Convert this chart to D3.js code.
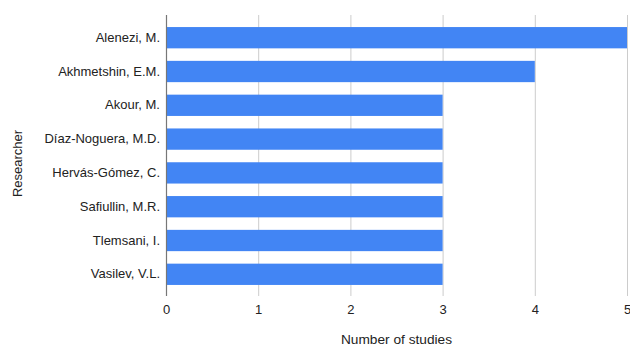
<!DOCTYPE html>
<html>
<head>
<meta charset="utf-8">
<script src="https://cdn.jsdelivr.net/npm/d3@7"></script>
<style>
  html, body { margin: 0; padding: 0; background: #fff; }
  svg { display: block; font-family: "Liberation Sans", Arial, sans-serif; }
</style>
</head>
<body>
<svg id="chart" width="630" height="346"></svg>
<script>
// Studies per researcher
const researchers = [
  "Alenezi, M.",
  "Akhmetshin, E.M.",
  "Akour, M.",
  "Díaz-Noguera, M.D.",
  "Hervás-Gómez, C.",
  "Safiullin, M.R.",
  "Tlemsani, I.",
  "Vasilev, V.L."
];
const studies = [5, 4, 3, 3, 3, 3, 3, 3];
const xTicks = [0, 1, 2, 3, 4, 5];

const svg = d3.select("#chart");
const plotLeft = 166, plotRight = 627, plotTop = 15, plotBottom = 296;
const labelFont = "'Liberation Sans', Arial, sans-serif";

const x = d3.scaleLinear().domain([0, 5]).range([plotLeft, plotRight]);
const y = d3.scaleBand().domain(researchers).range([20.8, 291.2]).paddingInner(0.37).paddingOuter(0.185);

// vertical gridlines
svg.append("g").selectAll("line")
  .data(xTicks.filter(d => d !== 0))
  .join("line")
  .attr("x1", d => x(d) + 0.5).attr("x2", d => x(d) + 0.5)
  .attr("y1", plotTop).attr("y2", plotBottom)
  .attr("stroke", "#cccccc").attr("stroke-width", 1);

// bars
svg.append("g").selectAll("rect")
  .data(researchers.map((r, i) => ({ r, v: studies[i] })))
  .join("rect")
  .attr("x", x(0))
  .attr("y", d => y(d.r))
  .attr("width", d => x(d.v) - x(0))
  .attr("height", y.bandwidth())
  .attr("fill", "#4285f4");

// baseline axis
svg.append("line")
  .attr("x1", plotLeft + 0.5).attr("x2", plotLeft + 0.5)
  .attr("y1", plotTop).attr("y2", plotBottom)
  .attr("stroke", "#777777").attr("stroke-width", 1.2);

// x tick labels
const xAxis = d3.axisBottom(x).tickValues(xTicks).tickSize(0).tickPadding(0).tickFormat(d3.format("d"));
const gx = svg.append("g").attr("transform", `translate(0,${plotBottom})`).call(xAxis);
gx.select(".domain").remove();
gx.selectAll("text")
  .attr("dy", null).attr("y", 17.5)
  .attr("fill", "#222").style("font-size", "13px")
  .style("font-family", labelFont);

// y category labels
const yAxis = d3.axisLeft(y).tickSize(0).tickPadding(6);
const gy = svg.append("g").attr("transform", `translate(${plotLeft},0)`).call(yAxis);
gy.select(".domain").remove();
gy.selectAll("text")
  .attr("fill", "#222").style("font-size", "13px")
  .style("font-family", labelFont);

// axis titles
svg.append("text")
  .attr("x", (plotLeft + plotRight) / 2).attr("y", 344)
  .attr("text-anchor", "middle")
  .attr("fill", "#222").style("font-size", "13.7px")
  .text("Number of studies");

svg.append("text")
  .attr("transform", `translate(22,${(plotTop + plotBottom) / 2 + 8}) rotate(-90)`)
  .attr("text-anchor", "middle")
  .attr("fill", "#222").style("font-size", "13px")
  .text("Researcher");
</script>
</body>
</html>
